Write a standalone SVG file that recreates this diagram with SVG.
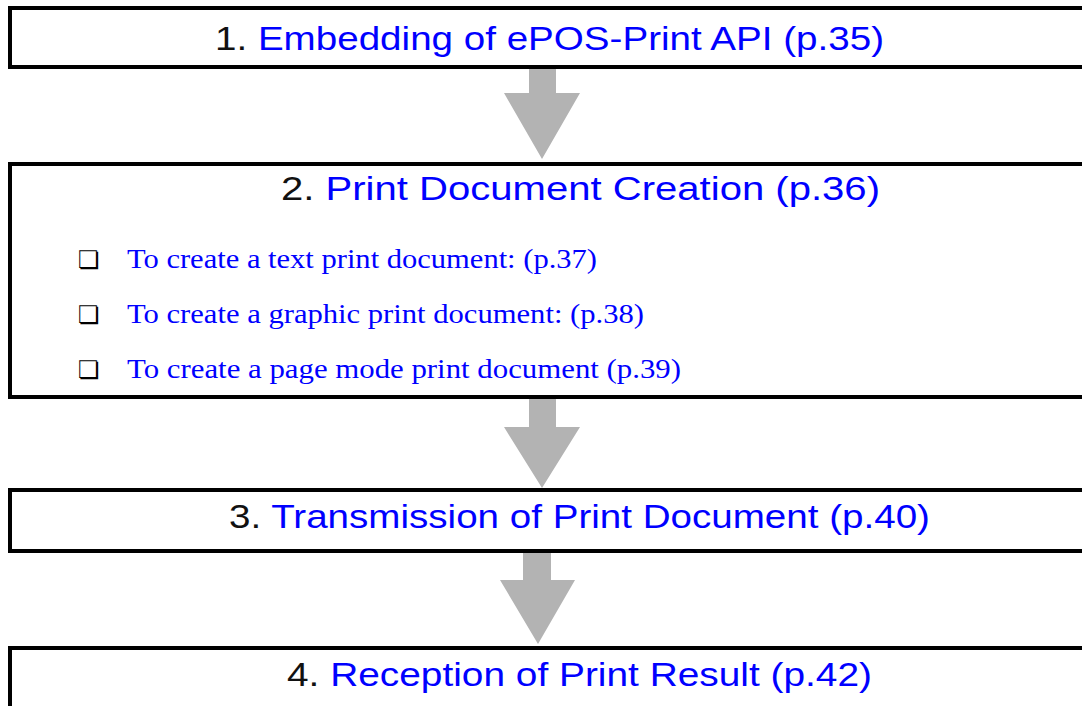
<svg xmlns="http://www.w3.org/2000/svg" width="1082" height="706" viewBox="0 0 1082 706">
<style>
.box{fill:#fff;stroke:#000;stroke-width:4}
.arrow{fill:#b3b3b3;stroke:none}
.title{font-family:"Liberation Sans",Arial,sans-serif;font-size:33px;fill:#0000ff}
.num{fill:#111}
.item{font-family:"Liberation Serif","Times New Roman",serif;font-size:27px;fill:#0000ff}
.bul{font-family:"DejaVu Sans",sans-serif;font-size:24px;fill:#000}
</style>
<rect width="1082" height="706" fill="#fff"/>
<g id="connectors">
<polygon class="arrow" points="529,69 556,69 556,93 580,93 542,159 504,93 529,93"/>
<polygon class="arrow" points="529,399 556,399 556,427 580,427 542,488 504,427 529,427"/>
<polygon class="arrow" points="523,553 551,553 551,580 575,580 538,644 500,580 523,580"/>
</g>
<g id="step1">
<rect class="box" x="10" y="8" width="1100" height="59"/>
<text class="title" x="215" y="50" textLength="669" lengthAdjust="spacingAndGlyphs"><tspan class="num">1. </tspan>Embedding of ePOS-Print API (p.35)</text>
</g>
<g id="step2">
<rect class="box" x="10" y="164" width="1100" height="233"/>
<text class="title" x="281" y="200" textLength="599" lengthAdjust="spacingAndGlyphs"><tspan class="num">2. </tspan>Print Document Creation (p.36)</text>
<text class="bul" x="78" y="268">❏</text>
<text class="item" x="127" y="268" textLength="470" lengthAdjust="spacingAndGlyphs">To create a text print document: (p.37)</text>
<text class="bul" x="78" y="323">❏</text>
<text class="item" x="127" y="323" textLength="517" lengthAdjust="spacingAndGlyphs">To create a graphic print document: (p.38)</text>
<text class="bul" x="78" y="378">❏</text>
<text class="item" x="127" y="378" textLength="554" lengthAdjust="spacingAndGlyphs">To create a page mode print document (p.39)</text>
</g>
<g id="step3">
<rect class="box" x="10" y="490" width="1100" height="61"/>
<text class="title" x="229" y="528" textLength="701" lengthAdjust="spacingAndGlyphs"><tspan class="num">3. </tspan>Transmission of Print Document (p.40)</text>
</g>
<g id="step4">
<rect class="box" x="10" y="648" width="1100" height="100"/>
<text class="title" x="287" y="686" textLength="585" lengthAdjust="spacingAndGlyphs"><tspan class="num">4. </tspan>Reception of Print Result (p.42)</text>
</g>
</svg>
